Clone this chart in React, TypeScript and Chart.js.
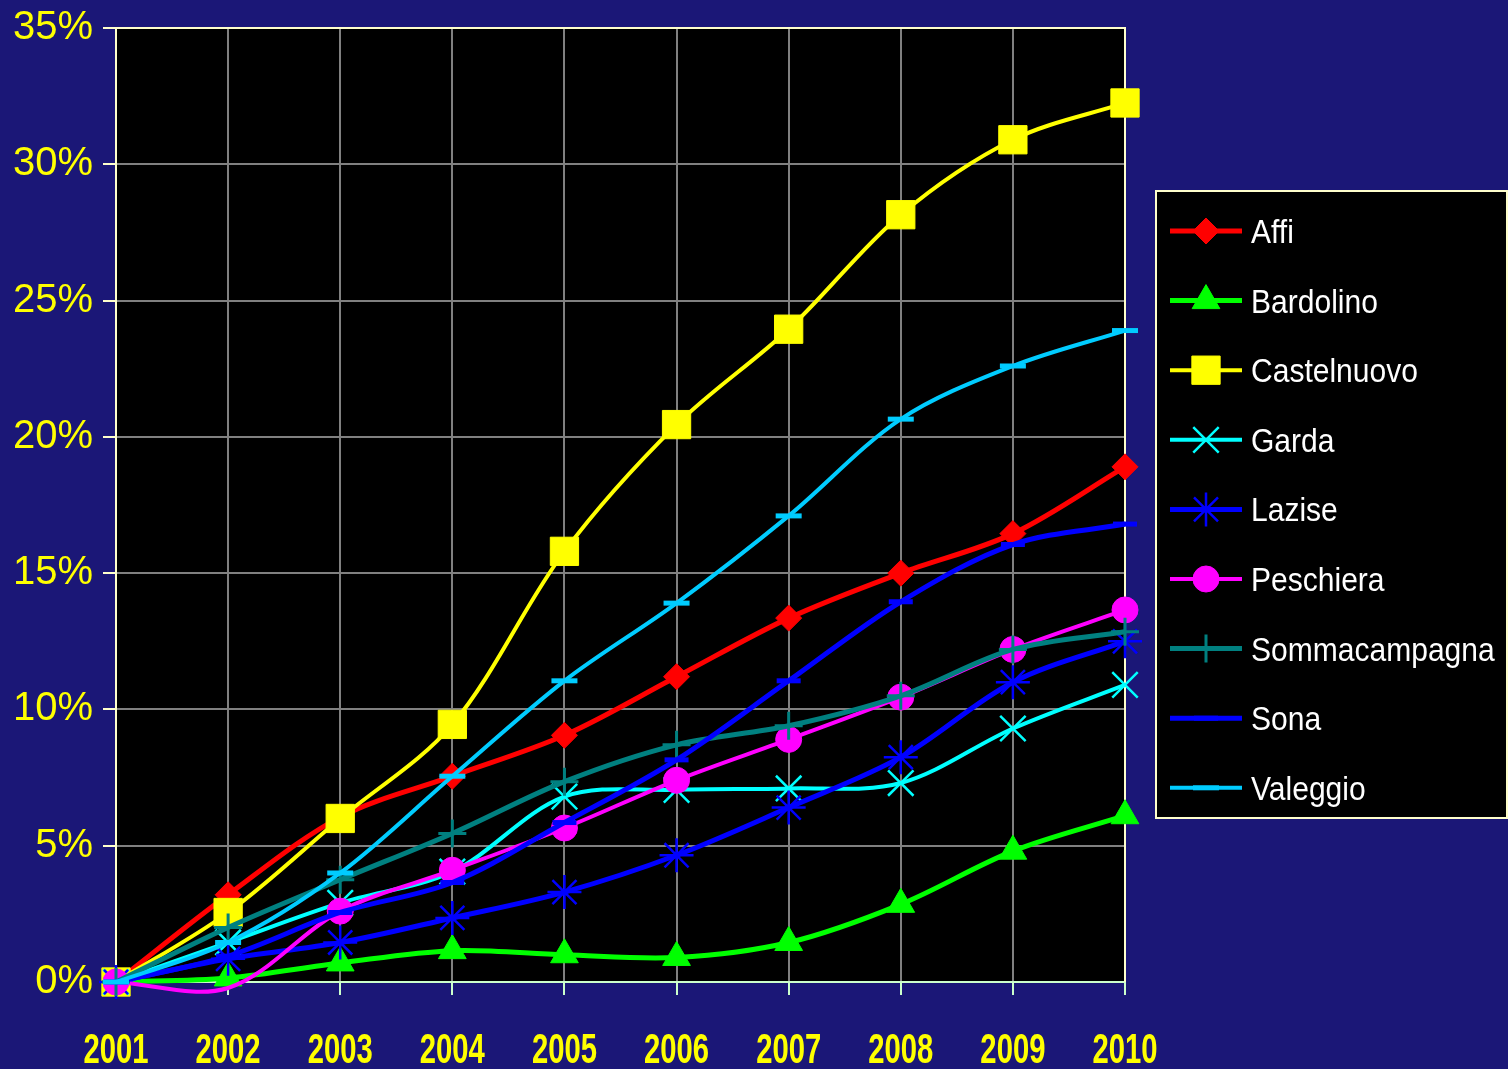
import React, { useEffect, useRef } from 'react';
import { Chart, registerables } from 'chart.js';
import * as helpers from 'chart.js/helpers';

Chart.register(...registerables);

const years = ['2001', '2002', '2003', '2004', '2005', '2006', '2007', '2008', '2009', '2010'];
const yTicks = [0, 5, 10, 15, 20, 25, 30, 35];

const affi = [0, 3.2, 6.05, 7.55, 9.05, 11.2, 13.35, 15.0, 16.45, 18.9];
const bardolino = [0, 0.15, 0.7, 1.15, 1.0, 0.9, 1.45, 2.85, 4.8, 6.1];
const castelnuovo = [0, 2.55, 6.0, 9.45, 15.8, 20.45, 23.95, 28.15, 30.9, 32.25];
const garda = [0, 1.45, 2.9, 4.05, 6.8, 7.05, 7.1, 7.3, 9.3, 10.9];
const lazise = [0, 0.85, 1.45, 2.35, 3.3, 4.65, 6.4, 8.25, 11.0, 12.5];
const peschiera = [0, -0.22, 2.6, 4.1, 5.65, 7.4, 8.9, 10.45, 12.2, 13.65];
const sommacampagna = [0, 2.0, 3.75, 5.45, 7.35, 8.7, 9.4, 10.5, 12.2, 12.85];
const sona = [0, 0.95, 2.55, 3.65, 5.85, 8.15, 11.05, 13.95, 16.05, 16.8];
const valeggio = [0, 1.45, 4.0, 7.55, 11.05, 13.9, 17.1, 20.65, 22.6, 23.9];

const NAVY = '#1b1777';
const AXIS_YELLOW = '#ffffcc';
const AXIS_GREEN = '#ccffcc';

type SeriesDef = {
  label: string;
  data: number[];
  color: string;
  style: string;
  radius: number;
  lineWidth: number;
  markerWidth: number;
};

const series: SeriesDef[] = [
  { label: 'Affi', data: affi, color: '#ff0000', style: 'rectRot', radius: 13, lineWidth: 5, markerWidth: 1 },
  { label: 'Bardolino', data: bardolino, color: '#00ff00', style: 'triangle', radius: 16, lineWidth: 5, markerWidth: 1 },
  { label: 'Castelnuovo', data: castelnuovo, color: '#ffff00', style: 'rect', radius: 20, lineWidth: 4, markerWidth: 1 },
  { label: 'Garda', data: garda, color: '#00ffff', style: 'crossRot', radius: 18, lineWidth: 4, markerWidth: 2.5 },
  { label: 'Lazise', data: lazise, color: '#0000ff', style: 'star', radius: 17, lineWidth: 5, markerWidth: 2.5 },
  { label: 'Peschiera', data: peschiera, color: '#ff00ff', style: 'circle', radius: 13, lineWidth: 4, markerWidth: 1 },
  { label: 'Sommacampagna', data: sommacampagna, color: '#008080', style: 'cross', radius: 14, lineWidth: 5, markerWidth: 3 },
  { label: 'Sona', data: sona, color: '#0000ff', style: 'line', radius: 12, lineWidth: 5, markerWidth: 5 },
  { label: 'Valeggio', data: valeggio, color: '#00ccff', style: 'line', radius: 13, lineWidth: 4, markerWidth: 5 },
];

const framePlugin = {
  id: 'framePlugin',
  beforeDraw(chart: any) {
    const { ctx, chartArea: a } = chart;
    ctx.save();
    ctx.fillStyle = '#000000';
    ctx.fillRect(a.left, a.top, a.right - a.left, a.bottom - a.top);
    ctx.restore();
  },
  beforeDatasetsDraw(chart: any) {
    const { ctx, chartArea: a } = chart;
    ctx.save();
    ctx.strokeStyle = AXIS_YELLOW;
    ctx.lineWidth = 2;
    ctx.beginPath();
    ctx.moveTo(a.left - 13, a.top);
    ctx.lineTo(a.right, a.top);
    ctx.lineTo(a.right, a.bottom);
    ctx.stroke();
    ctx.restore();
  },
  afterDraw(chart: any) {
    const { ctx } = chart;
    // x-axis category labels (bold, condensed look)
    const xs = chart.scales.x;
    ctx.save();
    ctx.fillStyle = '#ffff00';
    ctx.font = "bold 43px 'Liberation Sans', Arial, sans-serif";
    ctx.textAlign = 'center';
    ctx.textBaseline = 'alphabetic';
    (chart.data.labels as string[]).forEach((lab, i) => {
      const x = xs.getPixelForTick(i);
      ctx.save();
      ctx.translate(x, 1063);
      ctx.scale(0.68, 1);
      ctx.fillText(lab, 0, 0);
      ctx.restore();
    });
    ctx.restore();

    // legend
    const box = { left: 1156, top: 191, right: 1507, bottom: 818 };
    ctx.save();
    ctx.fillStyle = '#000000';
    ctx.fillRect(box.left, box.top, box.right - box.left, box.bottom - box.top);
    ctx.strokeStyle = AXIS_YELLOW;
    ctx.lineWidth = 2;
    ctx.strokeRect(box.left, box.top, box.right - box.left, box.bottom - box.top);
    chart.data.datasets.forEach((ds: any, i: number) => {
      const y = 231 + i * 69.6;
      ctx.strokeStyle = ds.borderColor;
      ctx.lineWidth = ds.borderWidth;
      ctx.beginPath();
      ctx.moveTo(1170, y);
      ctx.lineTo(1242, y);
      ctx.stroke();
      ctx.fillStyle = ds.backgroundColor;
      ctx.strokeStyle = ds.borderColor;
      ctx.lineWidth = ds.markerWidth;
      helpers.drawPoint(ctx, { pointStyle: ds.pointStyle, radius: ds.markerRadius, borderWidth: ds.markerWidth, rotation: 0 } as any, 1206, y);
      ctx.save();
      ctx.fillStyle = '#ffffff';
      ctx.font = "33px 'Liberation Sans', Arial, sans-serif";
      ctx.textBaseline = 'alphabetic';
      ctx.textAlign = 'left';
      ctx.translate(1251, y + 12);
      ctx.scale(0.91, 1);
      ctx.fillText(ds.label, 0, 0);
      ctx.restore();
    });
    ctx.restore();
  },
};

export default function App() {
  const ref = useRef<HTMLCanvasElement>(null);
  useEffect(() => {
    if (!ref.current) return;
    const datasets = series.map((s, i) => ({
      label: s.label,
      data: s.data,
      borderColor: s.color,
      backgroundColor: s.color,
      borderWidth: s.lineWidth,
      pointStyle: s.style,
      markerRadius: s.radius,
      markerWidth: s.markerWidth,
      pointRadius: (c: any) => (c.raw !== undefined && c.raw < 0 ? 0 : s.radius),
      pointHoverRadius: s.radius,
      pointBackgroundColor: s.color,
      pointBorderColor: s.color,
      pointBorderWidth: s.markerWidth,
      tension: 0.33,
      capBezierPoints: false,
      clip: false as any,
      fill: false,
      order: -i,
    }));
    const chart = new Chart(ref.current, {
      type: 'line',
      data: { labels: years, datasets },
      options: {
        responsive: false,
        animation: false,
        devicePixelRatio: 1,
        layout: { padding: { top: 28, right: 383, left: 0, bottom: 0 } },
        plugins: { legend: { display: false }, tooltip: { enabled: false } },
        elements: { line: { capBezierPoints: false } },
        scales: {
          x: {
            offset: false,
            ticks: { display: false, autoSkip: false, maxRotation: 0 },
            grid: { color: '#808080', lineWidth: 2, tickColor: AXIS_GREEN, tickLength: 13, drawTicks: true },
            border: { color: AXIS_GREEN, width: 2 },
            afterFit: (s: any) => { s.height = 87; s.paddingLeft = 0; s.paddingRight = 0; },
          },
          y: {
            min: yTicks[0],
            max: yTicks[yTicks.length - 1],
            afterBuildTicks: (s: any) => { s.ticks = yTicks.map((v) => ({ value: v })); },
            ticks: {
              color: '#ffff00',
              font: { family: "'Liberation Sans', Arial, sans-serif", size: 40 },
              padding: 10,
              callback: (v: any) => v + '%',
            },
            grid: { color: '#808080', lineWidth: 2, tickColor: AXIS_YELLOW, tickLength: 13, drawTicks: true },
            border: { color: AXIS_YELLOW, width: 2 },
            afterFit: (s: any) => { s.width = 116; s.paddingTop = 0; s.paddingBottom = 0; },
          },
        },
      } as any,
      plugins: [framePlugin],
    });
    return () => chart.destroy();
  }, []);
  return (
    <div style={{ position: 'fixed', left: 0, top: 0, width: 1508, height: 1069, background: NAVY, overflow: 'hidden' }}>
      <canvas ref={ref} width={1508} height={1069} style={{ display: 'block', width: 1508, height: 1069 }} />
    </div>
  );
}
